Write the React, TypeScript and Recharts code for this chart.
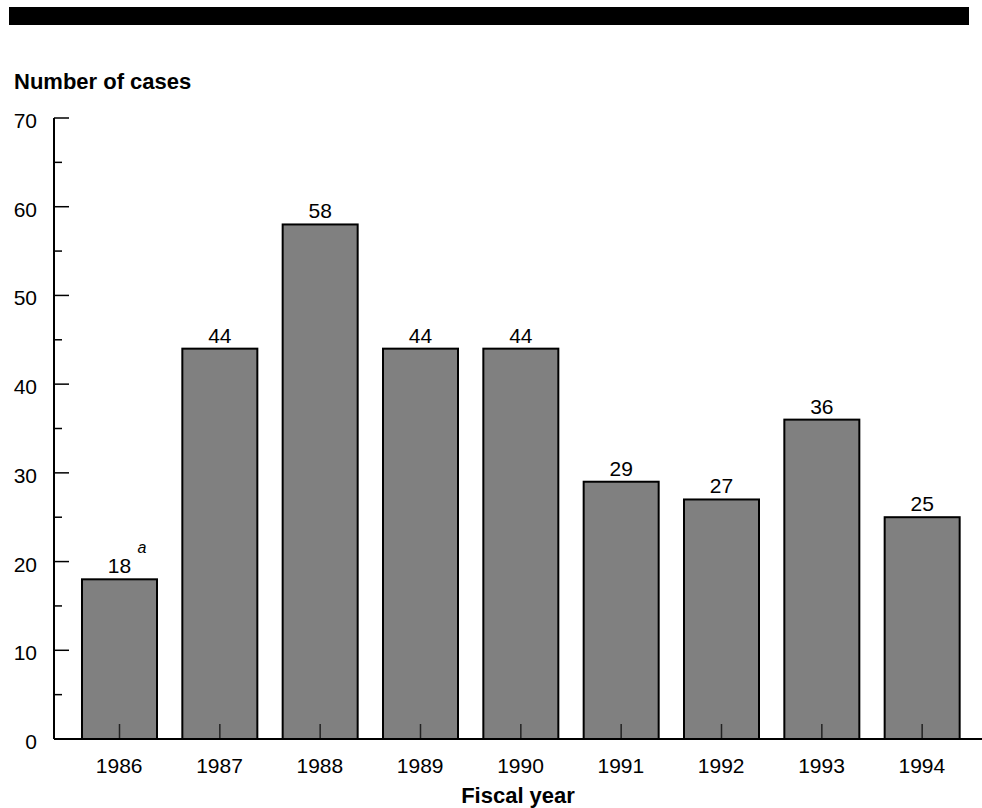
import React from 'react';
import { BarChart, Bar, XAxis, YAxis, LabelList } from 'recharts';

const years = ['1986', '1987', '1988', '1989', '1990', '1991', '1992', '1993', '1994'];
const cases = [18, 44, 58, 44, 44, 29, 27, 36, 25];
const notes = ['a', '', '', '', '', '', '', '', ''];
const yTicks = [0, 5, 10, 15, 20, 25, 30, 35, 40, 45, 50, 55, 60, 65, 70];

const data = years.map((year, i) => ({ year, cases: cases[i], note: notes[i] }));

const FONT = 'Arial, "Liberation Sans", Helvetica, sans-serif';

const YTick = (props: any) => {
  const { x, y, payload } = props;
  const major = payload.value % 10 === 0;
  return (
    <g>
      <line x1={x} x2={x + (major ? 15 : 8)} y1={y} y2={y} stroke="#000" strokeWidth={1.5} />
      {major && (
        <text x={x - 17} y={y + 10} textAnchor="end" fontSize={21} fill="#000" fontFamily={FONT}>
          {payload.value}
        </text>
      )}
    </g>
  );
};

const XTick = (props: any) => {
  const { x, y, payload } = props;
  return (
    <text x={x} y={y + 34} textAnchor="middle" fontSize={21} fill="#000" fontFamily={FONT}>
      {payload.value}
    </text>
  );
};

const BarShape = (props: any) => {
  const { x, y, width, height } = props;
  const cx = x + width / 2;
  return (
    <g>
      <rect x={x} y={y} width={width} height={height} fill="#808080" stroke="#000" strokeWidth={2} />
      <line x1={cx} x2={cx} y1={y + height} y2={y + height - 15} stroke="#222" strokeWidth={1.5} />
    </g>
  );
};

const BarLabel = (props: any) => {
  const { x, y, width, value, index } = props;
  const cx = x + width / 2;
  const note = notes[index];
  return (
    <g>
      <text x={cx} y={y - 6} textAnchor="middle" fontSize={21} fill="#000" fontFamily={FONT}>
        {value}
      </text>
      {note ? (
        <text x={cx + 18} y={y - 26} fontSize={16} fontStyle="italic" fill="#000" fontFamily={FONT}>
          {note}
        </text>
      ) : null}
    </g>
  );
};

export default function App() {
  return (
    <div style={{ position: 'absolute', left: 0, top: 0, width: 982, height: 808, background: '#fff' }}>
      <div style={{ position: 'absolute', left: 9, top: 7, width: 960, height: 18, background: '#000' }} />
      <div
        style={{
          position: 'absolute',
          left: 14,
          top: 71,
          fontFamily: FONT,
          fontWeight: 'bold',
          fontSize: 22,
          lineHeight: '22px',
          color: '#000',
        }}
      >
        Number of cases
      </div>
      <div style={{ position: 'absolute', left: 0, top: 0 }}>
        <BarChart width={982} height={808} data={data} margin={{ top: 118, right: 0, bottom: 0, left: 0 }} barSize={75}>
          <YAxis
            width={54}
            domain={[0, 70]}
            ticks={yTicks}
            interval={0}
            tickSize={0}
            tickMargin={0}
            tickLine={false}
            tick={<YTick />}
            axisLine={{ stroke: '#000', strokeWidth: 2 }}
          />
          <Bar dataKey="cases" isAnimationActive={false} shape={<BarShape />}>
            <LabelList dataKey="cases" content={<BarLabel />} />
          </Bar>
          <XAxis
            dataKey="year"
            height={69}
            interval={0}
            padding={{ left: 15, right: 10 }}
            tickSize={0}
            tickMargin={0}
            tickLine={false}
            tick={<XTick />}
            axisLine={{ stroke: '#000', strokeWidth: 2 }}
            label={{
              value: 'Fiscal year',
              position: 'insideBottom',
              offset: 5,
              style: { fontFamily: FONT, fontWeight: 'bold', fontSize: 22, fill: '#000' },
            }}
          />
        </BarChart>
      </div>
    </div>
  );
}
